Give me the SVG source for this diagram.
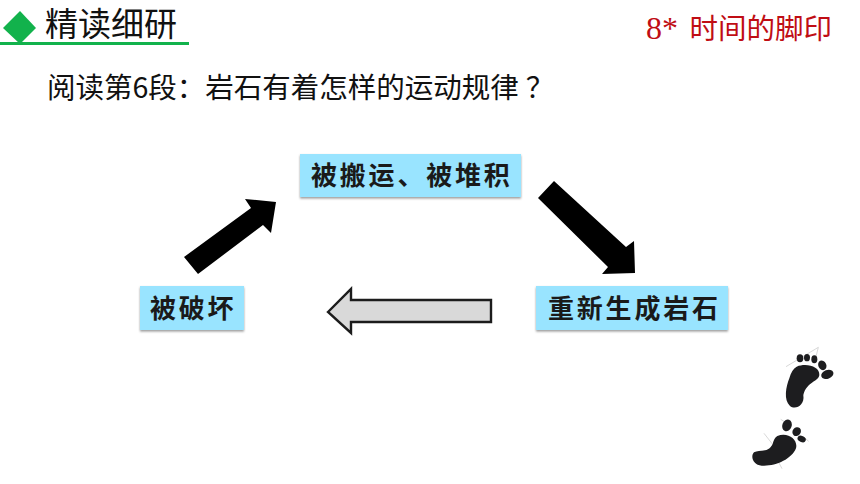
<svg xmlns="http://www.w3.org/2000/svg" width="860" height="484" viewBox="0 0 860 484">
<style>
text{font-family:"Noto Sans CJK SC","Noto Sans",sans-serif;fill:#111}
.box{fill:#99e4ff;filter:url(#sh)}
.lab{font-size:26px;font-weight:700;letter-spacing:2.8px;fill:#1a1a1a}
.foot{fill:#1d1d1f}
.fl{fill:none;stroke:#c4c4c4;stroke-width:2}
</style>
<defs><filter id="sh" x="-5%" y="-10%" width="110%" height="125%"><feDropShadow dx="0" dy="1.5" stdDeviation="1.2" flood-color="#000" flood-opacity=".4"/></filter></defs>
<rect width="860" height="484" fill="#fff"/>
<g id="header">
<rect x="0" y="42" width="189" height="3" fill="#12b24c"/>
<polygon points="3,28 20,11 36,28 20,44" fill="#12b24c"/>
<text x="45" y="35.500" font-size="33">精读细研</text>
<text x="646" y="39" font-size="32" style="font-family:'Liberation Serif',serif;fill:#c00d14">8*</text>
<text x="689.500" y="39" font-size="28.500" style="fill:#c00d14">时间的脚印</text>
</g>
<text id="question" x="47" y="98" font-size="28.500">阅读第6段：岩石有着怎样的运动规律<tspan dx="7">？</tspan></text>
<g id="connectors">
<polygon points="184,257 198,274 263,225 271,233 276,202 245,199 251,208" fill="#000"/>
<polygon points="554,181 538,198 608,267 602,274 635,273 634,241 626,247" fill="#000"/>
<polygon points="328,312 351,289 351,300 491,300 491,322 351,322 351,333" fill="#d9d9d9" stroke="#1c1c1c" stroke-width="2.400"/>
</g>
<g id="node-transport">
<rect class="box" x="300" y="154" width="221" height="43"/>
<text class="lab" x="311" y="185">被搬运、被堆积</text>
</g>
<g id="node-destroy">
<rect class="box" x="140" y="286" width="104" height="44"/>
<text class="lab" x="150" y="318">被破坏</text>
</g>
<g id="node-rock">
<rect class="box" x="536" y="286" width="192" height="44"/>
<text class="lab" x="548" y="318">重新生成岩石</text>
</g>
<g id="footprints" transform="translate(740 340) scale(.3333)">
<path class="fl" d="M138 80 L235 22 L225 62"/>
<path class="foot" d="M170 80C200 68 240 80 238 105C236 125 200 125 190 165C195 198 165 210 150 198C130 180 138 140 148 115C153 97 160 85 170 80Z"/>
<ellipse class="foot" cx="180" cy="55" rx="10" ry="12"/>
<ellipse class="foot" cx="201" cy="53" rx="9" ry="11"/>
<ellipse class="foot" cx="223" cy="58" rx="9" ry="12"/>
<ellipse class="foot" cx="247" cy="76" rx="12" ry="15" transform="rotate(-25 247 76)"/>
<ellipse class="foot" cx="262" cy="103" rx="19" ry="13" transform="rotate(-20 262 103)"/>
<path class="fl" d="M72 280L105 322M122 238L145 252M206 304L190 290M115 365L126 386"/>
<path class="foot" d="M112 288C145 275 175 300 168 325C155 358 105 380 65 377C40 375 30 350 42 337C60 328 85 340 98 312C101 300 105 292 112 288Z"/>
<ellipse class="foot" cx="141" cy="256" rx="14" ry="18" transform="rotate(20 141 256)"/>
<ellipse class="foot" cx="170" cy="275" rx="12" ry="14" transform="rotate(40 170 275)"/>
<ellipse class="foot" cx="185" cy="297" rx="13" ry="9" transform="rotate(25 185 297)"/>
</g>
</svg>
